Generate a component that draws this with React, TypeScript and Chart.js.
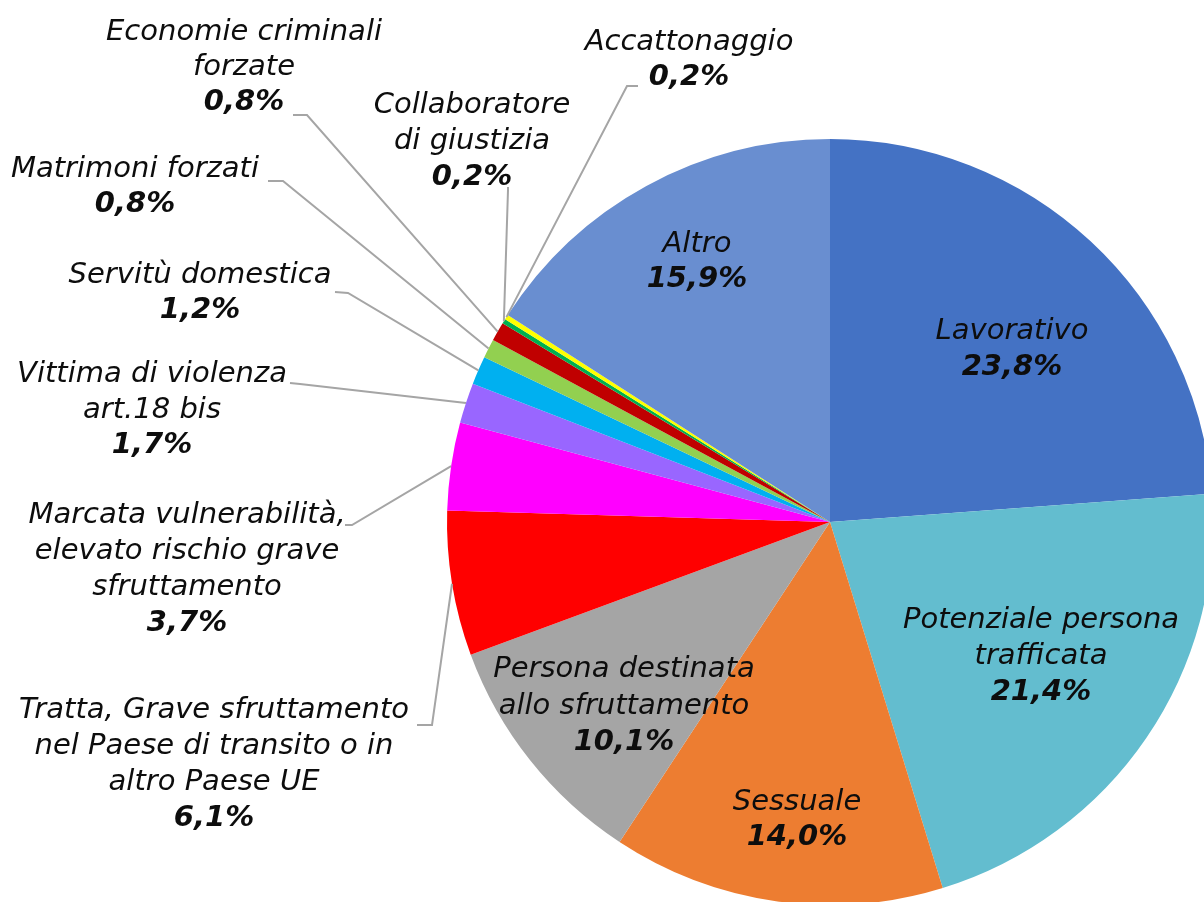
import React, { useEffect, useRef } from "react";
import { Chart, registerables } from "chart.js";

Chart.register(...registerables);

const categories = [
  "Lavorativo",
  "Potenziale persona trafficata",
  "Sessuale",
  "Persona destinata allo sfruttamento",
  "Tratta, Grave sfruttamento nel Paese di transito o in altro Paese UE",
  "Marcata vulnerabilità, elevato rischio grave sfruttamento",
  "Vittima di violenza art.18 bis",
  "Servitù domestica",
  "Matrimoni forzati",
  "Economie criminali forzate",
  "Collaboratore di giustizia",
  "Accattonaggio",
  "Altro",
];

const values = [23.8, 21.4, 14.0, 10.1, 6.1, 3.7, 1.7, 1.2, 0.8, 0.8, 0.2, 0.2, 15.9];

const colors = [
  "#4472C4",
  "#63BDCF",
  "#ED7D31",
  "#A5A5A5",
  "#FF0000",
  "#FF00FF",
  "#9966FF",
  "#00B0F0",
  "#92D050",
  "#C00000",
  "#00B050",
  "#FFFF00",
  "#698ED0",
];

// label text lines (category name split as in the reference)
const labelLines: string[][] = [
  ["Lavorativo"],
  ["Potenziale persona", "trafficata"],
  ["Sessuale"],
  ["Persona destinata", "allo sfruttamento"],
  ["Tratta, Grave sfruttamento", "nel Paese di transito o in", "altro Paese UE"],
  ["Marcata vulnerabilità,", "elevato rischio grave", "sfruttamento"],
  ["Vittima di violenza", "art.18 bis"],
  ["Servitù domestica"],
  ["Matrimoni forzati"],
  ["Economie criminali", "forzate"],
  ["Collaboratore", "di giustizia"],
  ["Accattonaggio"],
  ["Altro"],
];

// layout: label centre x, first baseline y, optional leader stub points
type Layout = { x: number; y: number; lh: number; stub?: [number, number][] };
const layouts: Layout[] = [
  { x: 1012, y: 339, lh: 36 },
  { x: 1041, y: 628, lh: 36 },
  { x: 797, y: 810, lh: 35 },
  { x: 624, y: 677, lh: 36.5 },
  { x: 214, y: 718, lh: 36, stub: [[417, 725], [432, 725]] },
  { x: 187, y: 523, lh: 36, stub: [[345, 525], [352, 525]] },
  { x: 152, y: 382, lh: 35.5, stub: [[290, 383], [300, 384]] },
  { x: 200, y: 283, lh: 35, stub: [[335, 292], [348, 293]] },
  { x: 135, y: 177, lh: 35, stub: [[268, 181], [283, 181]] },
  { x: 244, y: 40, lh: 35, stub: [[293, 115], [307, 115]] },
  { x: 472, y: 113, lh: 36, stub: [[508, 187], [508, 190]] },
  { x: 689, y: 50, lh: 35, stub: [[638, 86], [627, 86]] },
  { x: 697, y: 252, lh: 35 },
];

const FONT = '"DejaVu Sans", Verdana, sans-serif';

const fmt = (v: number) => v.toFixed(1).replace(".", ",") + "%";

const labelPlugin = {
  id: "pieLabels",
  afterDraw(chart: any) {
    const ctx = chart.ctx as CanvasRenderingContext2D;
    const meta = chart.getDatasetMeta(0);
    ctx.save();
    // leader lines
    ctx.strokeStyle = "#A5A5A5";
    ctx.lineWidth = 2;
    meta.data.forEach((arc: any, i: number) => {
      const lay = layouts[i];
      if (!lay.stub) return;
      const mid = (arc.startAngle + arc.endAngle) / 2;
      const ex = arc.x + Math.cos(mid) * arc.outerRadius;
      const ey = arc.y + Math.sin(mid) * arc.outerRadius;
      ctx.beginPath();
      ctx.moveTo(lay.stub[0][0], lay.stub[0][1]);
      for (let k = 1; k < lay.stub.length; k++) ctx.lineTo(lay.stub[k][0], lay.stub[k][1]);
      ctx.lineTo(ex, ey);
      ctx.stroke();
    });
    // texts
    ctx.fillStyle = "#0d0d0d";
    ctx.textAlign = "center";
    ctx.textBaseline = "alphabetic";
    values.forEach((v, i) => {
      const lay = layouts[i];
      const lines = labelLines[i];
      ctx.font = `italic 29px ${FONT}`;
      lines.forEach((t, k) => {
        ctx.fillText(t, lay.x, lay.y + k * lay.lh);
      });
      ctx.font = `italic bold 29px ${FONT}`;
      ctx.fillText(fmt(v), lay.x, lay.y + lines.length * lay.lh);
    });
    ctx.restore();
  },
};

export default function App() {
  const ref = useRef<HTMLCanvasElement | null>(null);
  useEffect(() => {
    if (!ref.current) return;
    const chart = new Chart(ref.current, {
      type: "pie",
      data: {
        labels: categories,
        datasets: [
          {
            data: values,
            backgroundColor: colors,
            borderWidth: 0,
            hoverOffset: 0,
            radius: 383,
            clip: false as any,
          } as any,
        ],
      },
      options: {
        animation: false,
        responsive: false,
        maintainAspectRatio: false,
        layout: { padding: { left: 456, right: 0, top: 142, bottom: 0 } },
        plugins: {
          legend: { display: false },
          tooltip: { enabled: false },
        },
        events: [],
      },
      plugins: [labelPlugin],
    });
    return () => chart.destroy();
  }, []);
  return (
    <div
      style={{
        position: "fixed",
        left: 0,
        top: 0,
        width: 1204,
        height: 902,
        overflow: "hidden",
        background: "#ffffff",
      }}
    >
      <canvas ref={ref} width={1204} height={902} style={{ display: "block" }} />
    </div>
  );
}
